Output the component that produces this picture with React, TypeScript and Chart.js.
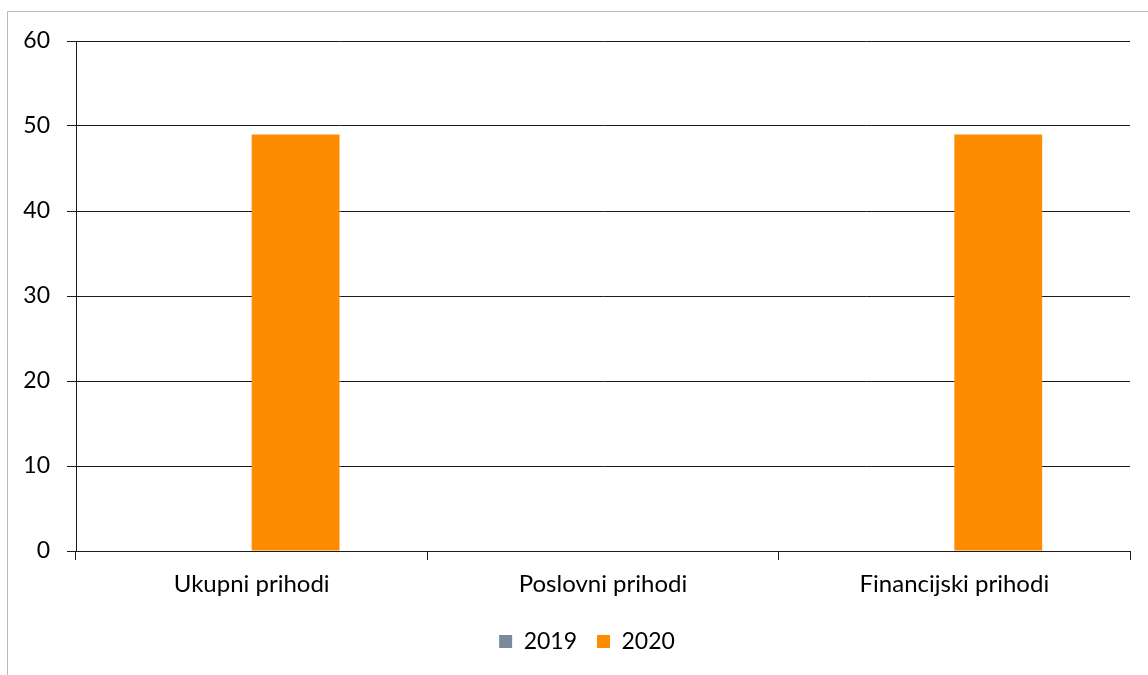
import React, { useEffect, useRef } from "react";
import { Chart, registerables } from "chart.js";

Chart.register(...registerables);

const categories = ["Ukupni prihodi", "Poslovni prihodi", "Financijski prihodi"];
const seriesNames = ["2019", "2020"];
const values2019 = [0, 0, 0];
const values2020 = [49, 0, 49];
const yMin = 0;
const yMax = 60;
const yStep = 10;

const framePlugin = {
  id: "frame",
  afterLayout(chart: any) {
    if (chart.legend) {
      chart.legend.left += 22;
      chart.legend.right += 22;
    }
  },
  beforeDraw(chart: any) {
    const ctx = chart.ctx;
    ctx.save();
    ctx.strokeStyle = "#b8b8b8";
    ctx.lineWidth = 1;
    ctx.beginPath();
    ctx.moveTo(7.5, chart.height);
    ctx.lineTo(7.5, 11.5);
    ctx.lineTo(chart.width, 11.5);
    ctx.stroke();
    ctx.restore();
  },
};

export default function App() {
  const ref = useRef<HTMLCanvasElement | null>(null);
  useEffect(() => {
    if (!ref.current) return;
    const family = "Lato, 'Open Sans', sans-serif";
    const chart = new Chart(ref.current, {
      type: "bar",
      data: {
        labels: categories,
        datasets: [
          {
            label: seriesNames[0],
            data: values2019,
            backgroundColor: "#7b8a9b",
            categoryPercentage: 0.5,
            barPercentage: 1,
          },
          {
            label: seriesNames[1],
            data: values2020,
            backgroundColor: "#ff8c00",
            categoryPercentage: 0.5,
            barPercentage: 1,
          },
        ],
      },
      options: {
        animation: false,
        responsive: false,
        maintainAspectRatio: false,
        layout: { padding: { left: 0, right: 18, top: 41, bottom: 12 } },
        plugins: {
          tooltip: { enabled: false },
          legend: {
            position: "bottom",
            labels: {
              boxWidth: 13,
              boxHeight: 13,
              padding: 20,
              color: "#000",
              font: { family, size: 23 },
            },
          },
        },
        scales: {
          x: {
            afterFit: (s: any) => {
              s.height = 59;
            },
            grid: {
              drawOnChartArea: false,
              drawTicks: true,
              tickLength: 9,
              color: "#1a1a1a",
              lineWidth: 1,
            },
            border: { display: true, color: "#1a1a1a", width: 1 },
            ticks: { color: "#000", font: { family, size: 24 }, padding: 10, maxRotation: 0 },
          },
          y: {
            min: yMin,
            max: yMax,
            afterFit: (s: any) => {
              s.width = 76;
            },
            grid: {
              drawOnChartArea: true,
              drawTicks: true,
              tickLength: 9,
              color: "#1a1a1a",
              lineWidth: 1,
            },
            border: { display: true, color: "#1a1a1a", width: 1 },
            ticks: { stepSize: yStep, color: "#000", font: { family, size: 23 }, padding: 17 },
          },
        },
      },
      plugins: [framePlugin],
    });
    return () => chart.destroy();
  }, []);
  return (
    <div style={{ position: "fixed", left: 0, top: 0, width: 1148, height: 675, background: "#fff" }}>
      <canvas ref={ref} width={1148} height={675} style={{ display: "block" }} />
    </div>
  );
}
